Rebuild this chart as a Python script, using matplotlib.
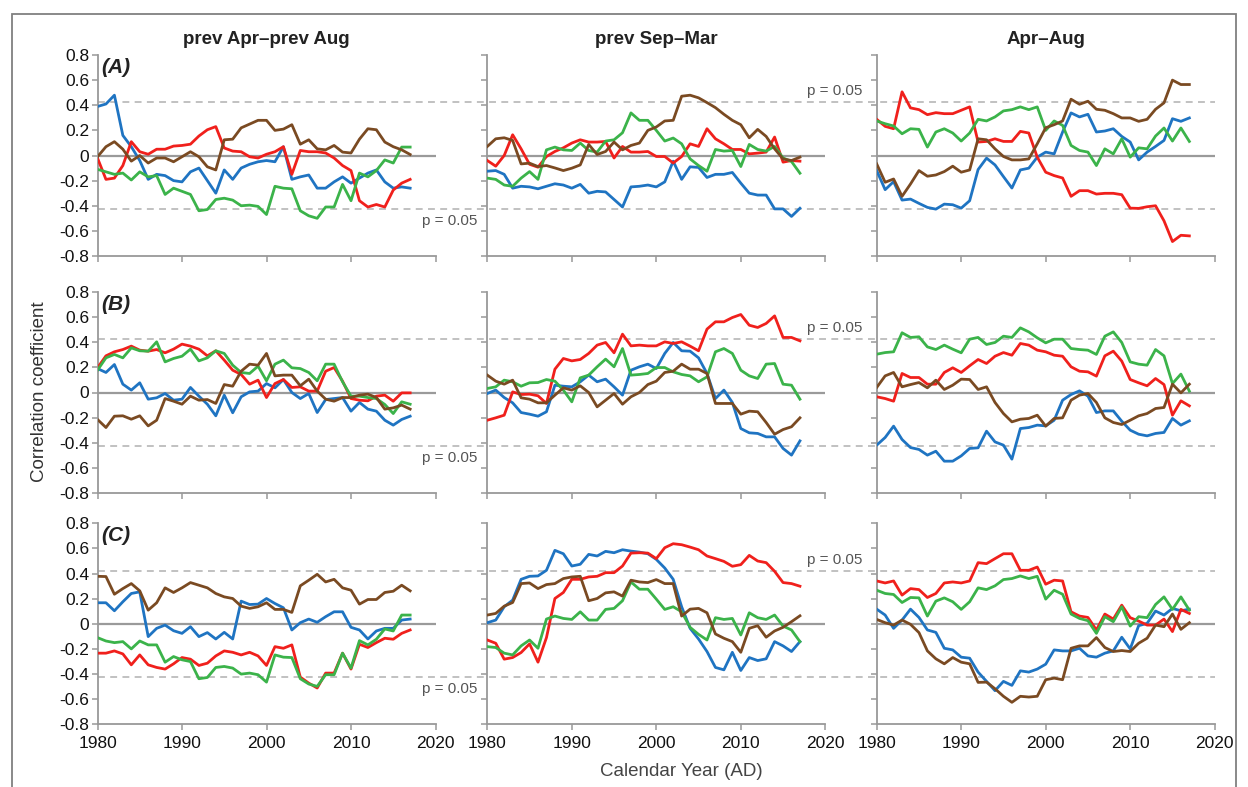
import matplotlib
matplotlib.use("Agg")
import matplotlib.pyplot as plt
from matplotlib.transforms import blended_transform_factory
from matplotlib.patches import Rectangle
import numpy as np

plt.rcParams['font.family'] = ['Liberation Sans', 'DejaVu Sans']

years = list(range(1980, 2018))
col_titles = ["prev Apr\u2013prev Aug", "prev Sep\u2013Mar", "Apr\u2013Aug"]
row_labels = ["(A)", "(B)", "(C)"]
yticks = [-0.8, -0.6, -0.4, -0.2, 0, 0.2, 0.4, 0.6, 0.8]
ytick_labels = ["-0.8", "-0.6", "-0.4", "-0.2", "0", "0.2", "0.4", "0.6", "0.8"]
xticks = [1980, 1990, 2000, 2010, 2020]
p_crit = 0.423

# ---- Row A ----
A_L_blue = [0.39,0.41,0.48,0.16,0.07,-0.04,-0.19,-0.15,-0.16,-0.20,-0.21,-0.13,-0.10,-0.20,-0.30,-0.115,-0.19,-0.10,-0.07,-0.05,-0.04,-0.05,0.07,-0.19,-0.17,-0.155,-0.26,-0.26,-0.21,-0.17,-0.22,-0.18,-0.14,-0.115,-0.21,-0.26,-0.25,-0.26]
A_L_red = [-0.02,-0.19,-0.18,-0.08,0.11,0.03,0.01,0.05,0.05,0.075,0.08,0.09,0.155,0.205,0.23,0.06,0.035,0.03,-0.01,-0.02,0.01,0.03,0.07,-0.15,0.04,0.03,0.03,0.02,-0.02,-0.08,-0.12,-0.36,-0.41,-0.39,-0.41,-0.275,-0.22,-0.19]
A_L_green = [-0.11,-0.13,-0.15,-0.14,-0.195,-0.13,-0.17,-0.16,-0.31,-0.26,-0.285,-0.31,-0.44,-0.43,-0.35,-0.34,-0.355,-0.40,-0.395,-0.405,-0.47,-0.245,-0.26,-0.265,-0.44,-0.48,-0.50,-0.41,-0.41,-0.23,-0.36,-0.14,-0.17,-0.12,-0.035,-0.06,0.067,0.067]
A_L_brown = [-0.01,0.07,0.11,0.05,-0.045,0.0,-0.06,-0.02,-0.02,-0.05,-0.01,0.03,-0.01,-0.09,-0.115,0.125,0.13,0.22,0.25,0.28,0.28,0.20,0.21,0.245,0.09,0.125,0.053,0.045,0.08,0.027,0.02,0.13,0.213,0.205,0.107,0.07,0.045,0.008]

A_M_blue = [-0.125,-0.12,-0.15,-0.26,-0.245,-0.25,-0.265,-0.245,-0.225,-0.235,-0.26,-0.23,-0.30,-0.285,-0.29,-0.35,-0.41,-0.25,-0.245,-0.235,-0.25,-0.21,-0.045,-0.19,-0.09,-0.095,-0.175,-0.15,-0.15,-0.135,-0.22,-0.30,-0.315,-0.315,-0.425,-0.425,-0.485,-0.42]
A_M_red = [-0.04,-0.085,0.0,0.165,0.053,-0.07,-0.093,-0.008,0.032,0.061,0.099,0.125,0.107,0.107,0.112,-0.02,0.072,0.027,0.027,0.032,-0.008,-0.008,-0.06,-0.008,0.093,0.072,0.213,0.133,0.093,0.048,0.048,0.013,0.019,0.027,0.147,-0.053,-0.04,-0.045]
A_M_green = [-0.18,-0.19,-0.235,-0.245,-0.18,-0.128,-0.19,0.045,0.067,0.045,0.04,0.099,0.04,0.027,0.115,0.125,0.181,0.339,0.28,0.28,0.2,0.115,0.139,0.093,-0.027,-0.08,-0.125,0.048,0.035,0.04,-0.088,0.088,0.048,0.035,0.072,-0.019,-0.048,-0.141]
A_M_brown = [0.072,0.133,0.141,0.12,-0.067,-0.061,-0.088,-0.08,-0.099,-0.12,-0.101,-0.075,0.088,0.008,0.032,0.107,0.045,0.08,0.099,0.2,0.227,0.275,0.28,0.472,0.48,0.459,0.421,0.381,0.328,0.28,0.245,0.141,0.208,0.152,0.053,-0.027,-0.04,-0.013]

A_R_blue = [-0.12,-0.272,-0.208,-0.355,-0.347,-0.381,-0.413,-0.427,-0.387,-0.392,-0.419,-0.36,-0.112,-0.021,-0.075,-0.168,-0.259,-0.115,-0.101,-0.013,0.027,0.013,0.187,0.339,0.307,0.328,0.187,0.195,0.213,0.152,0.107,-0.035,0.027,0.072,0.12,0.293,0.272,0.299]
A_R_red = [0.288,0.232,0.213,0.507,0.379,0.365,0.325,0.341,0.333,0.333,0.36,0.387,0.107,0.112,0.133,0.112,0.112,0.192,0.179,-0.013,-0.133,-0.16,-0.179,-0.325,-0.28,-0.28,-0.307,-0.301,-0.301,-0.312,-0.419,-0.421,-0.408,-0.4,-0.52,-0.685,-0.635,-0.64]
A_R_green = [0.275,0.253,0.235,0.173,0.213,0.208,0.067,0.187,0.213,0.179,0.115,0.179,0.288,0.275,0.307,0.355,0.365,0.387,0.365,0.387,0.2,0.275,0.24,0.08,0.04,0.027,-0.08,0.053,0.013,0.133,-0.013,0.061,0.053,0.155,0.219,0.115,0.219,0.112]
A_R_brown = [-0.067,-0.213,-0.187,-0.325,-0.227,-0.12,-0.165,-0.155,-0.128,-0.085,-0.133,-0.115,0.133,0.125,0.053,-0.008,-0.035,-0.035,-0.027,0.093,0.221,0.245,0.275,0.448,0.408,0.432,0.368,0.36,0.333,0.299,0.299,0.272,0.288,0.368,0.419,0.6,0.565,0.565]

# ---- Row B ----
B_L_blue = [0.19,0.159,0.222,0.066,0.019,0.077,-0.053,-0.042,-0.008,-0.061,-0.053,0.04,-0.029,-0.093,-0.185,-0.021,-0.161,-0.034,0.005,0.011,0.071,0.037,0.103,0.0,-0.048,-0.008,-0.159,-0.056,-0.048,-0.04,-0.148,-0.079,-0.132,-0.148,-0.22,-0.259,-0.214,-0.188]
B_L_red = [0.196,0.291,0.323,0.341,0.368,0.336,0.328,0.341,0.315,0.344,0.384,0.368,0.344,0.291,0.331,0.257,0.177,0.143,0.066,0.098,-0.04,0.071,0.103,0.04,0.045,0.011,0.011,0.169,0.198,0.09,-0.048,-0.061,-0.066,-0.029,-0.021,-0.069,-0.003,-0.003]
B_L_green = [0.177,0.275,0.302,0.275,0.354,0.331,0.328,0.402,0.243,0.27,0.288,0.344,0.251,0.275,0.331,0.31,0.217,0.159,0.151,0.209,0.093,0.225,0.257,0.196,0.19,0.159,0.093,0.225,0.225,0.085,-0.029,-0.029,-0.04,-0.048,-0.095,-0.167,-0.074,-0.093]
B_L_brown = [-0.214,-0.278,-0.188,-0.185,-0.212,-0.185,-0.265,-0.22,-0.048,-0.069,-0.093,-0.029,-0.061,-0.056,-0.087,0.063,0.05,0.169,0.225,0.217,0.31,0.132,0.138,0.138,0.053,0.106,0.011,-0.053,-0.069,-0.04,-0.04,-0.021,-0.013,-0.04,-0.132,-0.122,-0.1,-0.132]

B_M_blue = [-0.008,0.019,-0.04,-0.082,-0.159,-0.172,-0.188,-0.153,0.058,0.05,0.045,0.085,0.138,0.085,0.106,0.045,-0.021,0.177,0.204,0.225,0.19,0.31,0.397,0.331,0.328,0.275,0.151,-0.048,0.019,-0.079,-0.286,-0.32,-0.325,-0.352,-0.352,-0.444,-0.497,-0.384]
B_M_red = [-0.22,-0.201,-0.18,0.005,-0.016,-0.013,-0.026,-0.087,0.185,0.27,0.251,0.262,0.31,0.376,0.397,0.315,0.463,0.37,0.376,0.37,0.37,0.402,0.389,0.402,0.368,0.331,0.503,0.561,0.561,0.595,0.619,0.534,0.516,0.548,0.608,0.437,0.437,0.41]
B_M_green = [0.032,0.045,0.098,0.085,0.05,0.077,0.079,0.103,0.09,0.019,-0.074,0.116,0.138,0.204,0.265,0.204,0.349,0.138,0.143,0.151,0.198,0.198,0.164,0.143,0.132,0.085,0.124,0.323,0.349,0.31,0.177,0.132,0.111,0.225,0.23,0.066,0.058,-0.053]
B_M_brown = [0.138,0.09,0.066,0.098,-0.042,-0.053,-0.082,-0.082,-0.021,0.037,0.019,0.053,0.0,-0.114,-0.061,-0.008,-0.093,-0.034,0.0,0.063,0.09,0.159,0.169,0.225,0.185,0.185,0.151,-0.087,-0.087,-0.087,-0.172,-0.148,-0.153,-0.238,-0.331,-0.294,-0.272,-0.201]

B_R_blue = [-0.418,-0.357,-0.267,-0.373,-0.437,-0.452,-0.497,-0.466,-0.545,-0.545,-0.503,-0.444,-0.439,-0.307,-0.392,-0.418,-0.529,-0.286,-0.278,-0.259,-0.265,-0.22,-0.061,-0.016,0.013,-0.029,-0.159,-0.146,-0.146,-0.228,-0.299,-0.331,-0.344,-0.325,-0.317,-0.206,-0.259,-0.225]
B_R_red = [-0.034,-0.048,-0.069,0.151,0.119,0.119,0.066,0.066,0.159,0.196,0.159,0.212,0.262,0.23,0.288,0.317,0.296,0.389,0.376,0.336,0.323,0.296,0.288,0.204,0.169,0.164,0.13,0.291,0.328,0.249,0.103,0.077,0.053,0.111,0.063,-0.18,-0.066,-0.106]
B_R_green = [0.304,0.317,0.323,0.474,0.437,0.442,0.362,0.341,0.376,0.344,0.315,0.423,0.437,0.381,0.397,0.447,0.437,0.513,0.481,0.434,0.394,0.423,0.423,0.349,0.341,0.336,0.302,0.447,0.481,0.397,0.243,0.225,0.217,0.341,0.291,0.071,0.146,0.011]
B_R_brown = [0.04,0.132,0.159,0.045,0.063,0.079,0.037,0.098,0.024,0.058,0.106,0.103,0.024,0.045,-0.079,-0.167,-0.233,-0.212,-0.206,-0.18,-0.267,-0.206,-0.201,-0.061,-0.021,-0.008,-0.079,-0.201,-0.238,-0.254,-0.22,-0.185,-0.167,-0.127,-0.119,0.066,-0.003,0.066]

# ---- Row C ----
C_L_blue = [0.167,0.167,0.103,0.175,0.241,0.254,-0.103,-0.037,-0.011,-0.056,-0.077,-0.024,-0.103,-0.071,-0.122,-0.069,-0.122,0.18,0.153,0.156,0.201,0.161,0.127,-0.05,0.008,0.037,0.011,0.056,0.095,0.095,-0.029,-0.05,-0.122,-0.058,-0.037,-0.037,0.029,0.037]
C_L_red = [-0.235,-0.235,-0.217,-0.241,-0.328,-0.249,-0.328,-0.349,-0.362,-0.32,-0.27,-0.283,-0.333,-0.315,-0.257,-0.217,-0.228,-0.249,-0.228,-0.257,-0.333,-0.183,-0.196,-0.169,-0.426,-0.474,-0.513,-0.394,-0.394,-0.235,-0.362,-0.164,-0.19,-0.151,-0.116,-0.124,-0.077,-0.05]
C_L_green = [-0.111,-0.138,-0.151,-0.143,-0.201,-0.138,-0.169,-0.169,-0.307,-0.262,-0.288,-0.302,-0.439,-0.429,-0.349,-0.341,-0.354,-0.402,-0.394,-0.407,-0.466,-0.249,-0.267,-0.27,-0.439,-0.481,-0.5,-0.407,-0.407,-0.235,-0.354,-0.135,-0.169,-0.124,-0.042,-0.058,0.069,0.069]
C_L_brown = [0.378,0.376,0.235,0.28,0.32,0.262,0.108,0.167,0.286,0.249,0.286,0.328,0.307,0.286,0.241,0.214,0.201,0.14,0.122,0.135,0.167,0.114,0.114,0.09,0.302,0.347,0.394,0.333,0.354,0.286,0.267,0.156,0.193,0.193,0.249,0.259,0.307,0.262]

C_M_blue = [0.008,0.029,0.135,0.188,0.354,0.378,0.381,0.426,0.585,0.558,0.46,0.474,0.553,0.54,0.577,0.566,0.59,0.579,0.571,0.558,0.513,0.444,0.354,0.135,-0.037,-0.122,-0.222,-0.349,-0.368,-0.228,-0.373,-0.27,-0.294,-0.28,-0.143,-0.177,-0.222,-0.143]
C_M_red = [-0.13,-0.156,-0.283,-0.27,-0.23,-0.161,-0.307,-0.111,0.201,0.249,0.354,0.354,0.373,0.378,0.407,0.407,0.46,0.563,0.566,0.563,0.519,0.606,0.638,0.63,0.611,0.59,0.54,0.519,0.497,0.458,0.471,0.545,0.5,0.487,0.418,0.328,0.32,0.299]
C_M_green = [-0.183,-0.19,-0.235,-0.249,-0.177,-0.13,-0.196,0.037,0.061,0.042,0.034,0.095,0.029,0.029,0.114,0.122,0.183,0.333,0.275,0.275,0.196,0.114,0.135,0.095,-0.029,-0.085,-0.13,0.048,0.034,0.042,-0.09,0.087,0.048,0.034,0.069,-0.019,-0.05,-0.143]
C_M_brown = [0.069,0.082,0.14,0.169,0.32,0.325,0.28,0.312,0.32,0.36,0.373,0.378,0.183,0.201,0.246,0.254,0.22,0.347,0.333,0.328,0.352,0.32,0.32,0.061,0.116,0.122,0.087,-0.082,-0.116,-0.143,-0.228,-0.037,-0.016,-0.108,-0.058,-0.029,0.016,0.063]

C_R_blue = [0.116,0.069,-0.037,0.029,0.116,0.05,-0.05,-0.069,-0.196,-0.209,-0.267,-0.275,-0.386,-0.46,-0.534,-0.46,-0.492,-0.376,-0.386,-0.362,-0.323,-0.209,-0.217,-0.217,-0.196,-0.257,-0.267,-0.235,-0.217,-0.108,-0.201,-0.016,0.003,0.101,0.069,0.122,0.103,0.116]
C_R_red = [0.341,0.325,0.341,0.228,0.28,0.272,0.209,0.241,0.325,0.333,0.325,0.341,0.487,0.479,0.519,0.558,0.558,0.426,0.426,0.452,0.315,0.347,0.341,0.095,0.061,0.05,-0.05,0.077,0.037,0.148,0.048,0.021,-0.011,-0.011,0.037,-0.063,0.114,0.082]
C_R_green = [0.267,0.241,0.233,0.169,0.209,0.206,0.061,0.18,0.206,0.175,0.114,0.175,0.286,0.272,0.302,0.352,0.36,0.381,0.36,0.378,0.196,0.267,0.235,0.077,0.042,0.024,-0.077,0.056,0.016,0.135,-0.019,0.056,0.048,0.153,0.214,0.114,0.214,0.108]
C_R_brown = [0.034,0.008,-0.011,0.029,-0.005,-0.071,-0.217,-0.28,-0.32,-0.27,-0.307,-0.32,-0.468,-0.466,-0.519,-0.579,-0.627,-0.579,-0.585,-0.579,-0.447,-0.434,-0.447,-0.196,-0.177,-0.177,-0.111,-0.19,-0.222,-0.214,-0.222,-0.156,-0.116,-0.011,-0.024,0.077,-0.045,0.008]

panels = [
    [(A_L_blue, A_L_red, A_L_green, A_L_brown), (A_M_blue, A_M_red, A_M_green, A_M_brown), (A_R_blue, A_R_red, A_R_green, A_R_brown)],
    [(B_L_blue, B_L_red, B_L_green, B_L_brown), (B_M_blue, B_M_red, B_M_green, B_M_brown), (B_R_blue, B_R_red, B_R_green, B_R_brown)],
    [(C_L_blue, C_L_red, C_L_green, C_L_brown), (C_M_blue, C_M_red, C_M_green, C_M_brown), (C_R_blue, C_R_red, C_R_green, C_R_brown)],
]
colors = ["#1f74c2", "#f0201c", "#3bb34a", "#7a4a22"]

W, H = 1248, 787
fig = plt.figure(figsize=(W / 100, H / 100), dpi=100)

col_x = [97.5, 487.3, 876.7]
ax_w = 338.0
row_y = [(55.0, 256.0), (291.7, 493.3), (523.4, 724.0)]

spine_c = "#999999"
axes = [[None] * 3 for _ in range(3)]
for r in range(3):
    top, bot = row_y[r]
    for c in range(3):
        ax = fig.add_axes([col_x[c] / W, 1 - bot / H, ax_w / W, (bot - top) / H])
        axes[r][c] = ax
        ax.set_xlim(1980, 2020)
        ax.set_ylim(-0.8, 0.8)
        for s in ("top", "right"):
            ax.spines[s].set_visible(False)
        for s in ("left", "bottom"):
            ax.spines[s].set_color(spine_c)
            ax.spines[s].set_linewidth(1.3)
        ax.tick_params(axis="both", direction="out", length=4, width=1.1, color=spine_c,
                       labelsize=12.5, labelcolor="#111111", pad=2)
        ax.set_xticks(xticks)
        ax.set_yticks(yticks)
        if c == 0:
            ax.set_yticklabels(ytick_labels)
        else:
            ax.set_yticklabels([])
        if r == 2:
            ax.set_xticklabels([str(t) for t in xticks])
            ax.tick_params(axis="x", pad=5)
        else:
            ax.set_xticklabels([])
        ax.axhline(0, color="#9a9a9a", lw=1.6, zorder=1)
        for series, col in zip(panels[r][c], colors):
            ax.plot(years, series, color=col, lw=2.0, zorder=3, solid_joinstyle="round")
        ax.patch.set_alpha(0)

    # dashed significance lines across the whole row
    trans = blended_transform_factory(fig.transFigure, axes[r][0].transData)
    x0 = col_x[0] / W
    x1 = (col_x[2] + ax_w) / W
    for yv in (p_crit, -p_crit):
        fig.add_artist(plt.Line2D([x0, x1], [yv, yv], transform=trans, color="#b0b0b0",
                                  lw=1.1, ls=(0, (4.5, 3.5)), zorder=0))
    # p = 0.05 labels
    axes[r][0].text(2018.4, -0.52, "p = 0.05", fontsize=11, color="#555555",
                    va="center", ha="left", clip_on=False)
    axes[r][1].text(2017.8, 0.51, "p = 0.05", fontsize=11, color="#555555",
                    va="center", ha="left", clip_on=False)
    # panel label
    axes[r][0].text(0.012, 0.985, row_labels[r], transform=axes[r][0].transAxes,
                    fontsize=15, fontweight="bold", fontstyle="italic", va="top", ha="left",
                    color="#222222")

for c in range(3):
    axes[0][c].text(0.5, 1.0 + 15 / 201, col_titles[c], transform=axes[0][c].transAxes,
                    fontsize=13.5, fontweight="bold", ha="center", va="center", color="#222222")

fig.text(40 / W, 1 - 392 / H, "Correlation coefficient", rotation=90, fontsize=13.5,
         color="#333333", ha="center", va="center")
fig.text(681 / W, 1 - 771 / H, "Calendar Year (AD)", fontsize=13.5, color="#444444",
         ha="center", va="center")

fig.add_artist(Rectangle((12 / W, -0.05), (1236 - 12) / W, 1.05 - 14 / H,
                         transform=fig.transFigure, fill=False, edgecolor="#808080", lw=1.3))

fig.savefig("out.png", dpi=100)
